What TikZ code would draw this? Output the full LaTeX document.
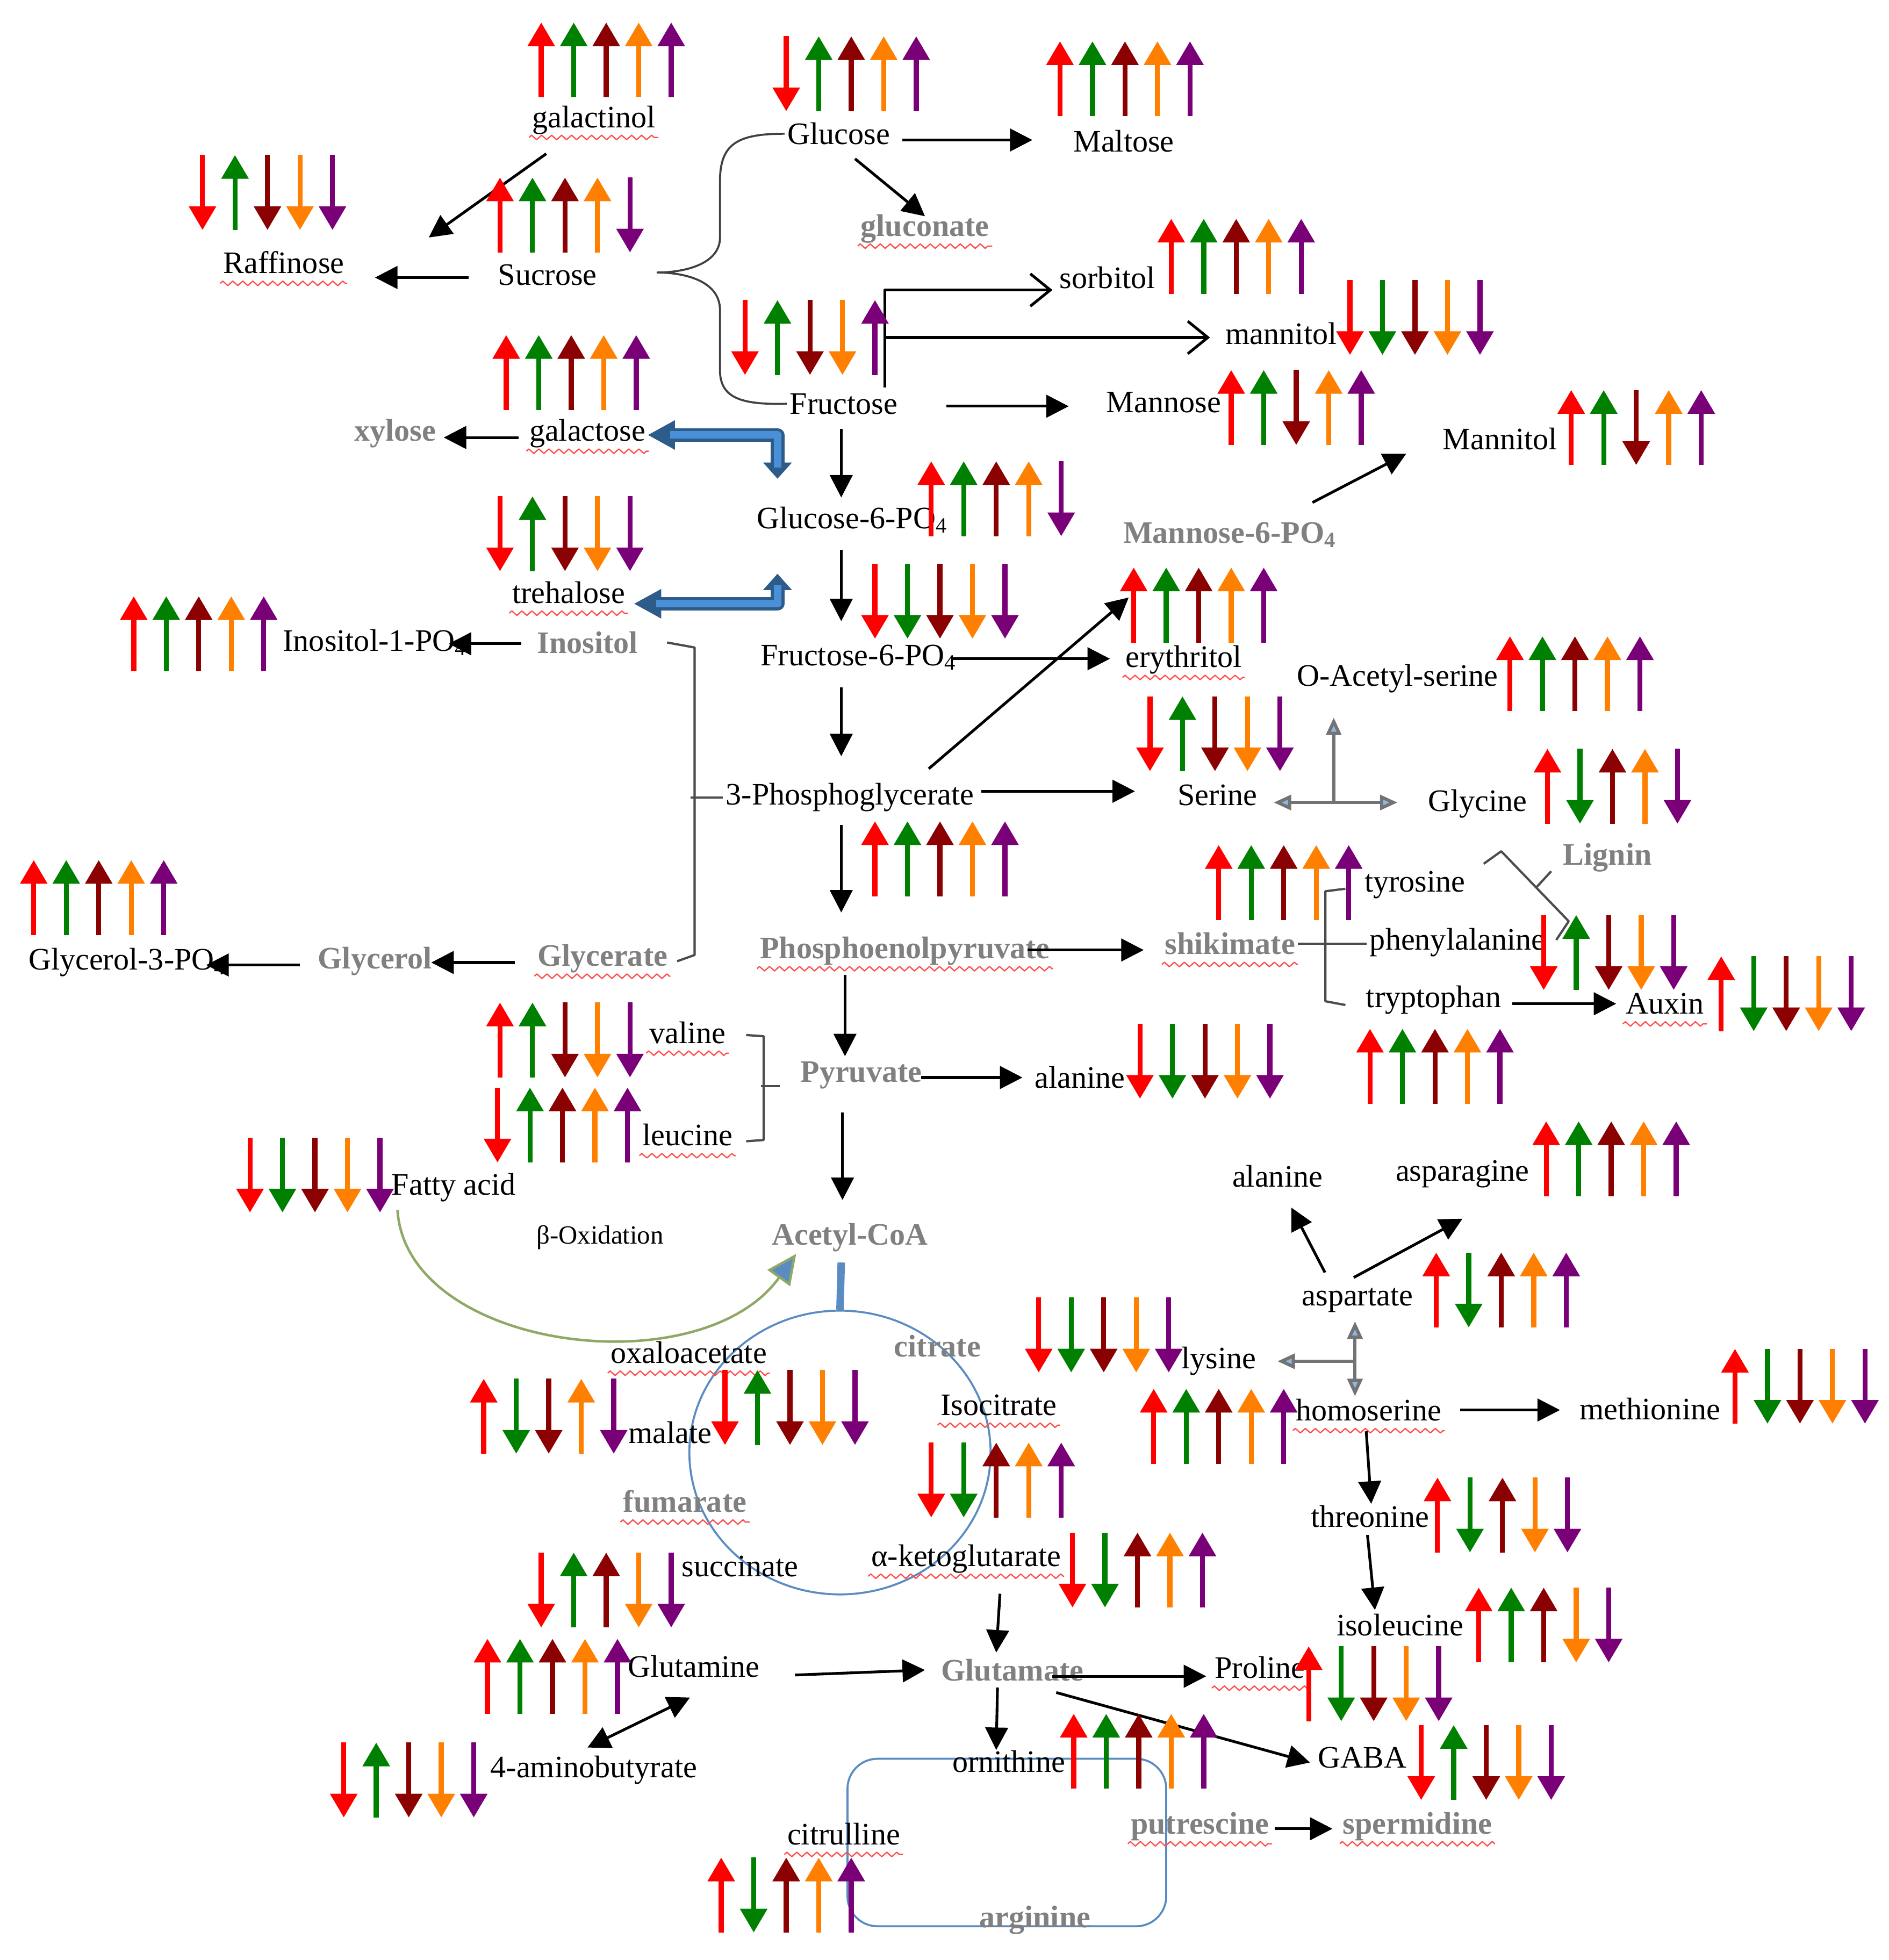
\documentclass[tikz,border=0pt]{standalone}
\usepackage{fontspec}
\setmainfont{Liberation Serif}
\usetikzlibrary{arrows.meta,calc,decorations.pathmorphing,shapes.geometric}
\definecolor{udc1}{HTML}{FF0000}
\definecolor{udc2}{HTML}{008000}
\definecolor{udc3}{HTML}{8B0000}
\definecolor{udc4}{HTML}{FF7F00}
\definecolor{udc5}{HTML}{7A0078}
\definecolor{labgrey}{HTML}{808080}
\definecolor{tcablue}{HTML}{5A8CC2}
\definecolor{blkblue}{HTML}{4A90D9}
\definecolor{blkdark}{HTML}{2E5C8A}
\definecolor{faline}{HTML}{8FA866}
\definecolor{tipblue}{HTML}{8DB8E0}
% five up/down arrows: first x, middle y, list of 1 (up) / -1 (down)
\newcommand\updn[3]{%
  \foreach \ud [count=\i] in {#3}
    \draw[udarr,color=udc\i] ({#1+26*(\i-1)},{#2+30*(\ud)}) -- ({#1+26*(\i-1)},{#2-30*(\ud)});
}
\begin{document}
\begin{tikzpicture}[x=0.5pt, y=-0.5pt, line join=round,
  blab/.style={inner sep=1pt, font=\fontsize{12.5}{14}\selectfont},
  glab/.style={inner sep=1pt, text=labgrey, font=\fontsize{12.5}{14}\selectfont\bfseries},
  udarr/.style={line width=2pt, -{Triangle[length=9.5pt,width=10.5pt]}},
  conn/.style={line width=1.1pt, -{Triangle[length=9pt,width=9pt]}},
  dconn/.style={line width=1.1pt, {Triangle[length=9pt,width=9pt]}-{Triangle[length=9pt,width=9pt]}},
  openarr/.style={line width=1.1pt, -{Straight Barb[length=8pt,width=13pt]}},
  bracket/.style={draw=black!70, line width=0.9pt},
  tjd/.style={draw=black!55, line width=1.3pt, {Triangle[length=7pt,width=6pt,fill=tipblue]}-{Triangle[length=7pt,width=6pt,fill=tipblue]}},
  tj/.style={draw=black!55, line width=1.3pt, -{Triangle[length=7pt,width=6pt,fill=tipblue]}},
  blk/.style={draw=blkdark, line width=5.5pt, {Triangle[length=18pt,width=5.5pt]}-{Triangle[length=11pt,width=11pt]},
    postaction={draw=blkblue, line width=3pt, -, shorten <=16pt, shorten >=9pt}},
  facurve/.style={draw=faline, line width=1pt, -{Triangle[length=12pt,width=11pt,fill=tcablue]}},
  spell/.style={draw=red!70, line width=0.5pt, decorate, decoration={zigzag,segment length=4pt,amplitude=0.9pt}}]
\useasboundingbox (0,0) rectangle (1511,1568);
\node[draw=tcablue, line width=0.8pt, ellipse, minimum width=120.5pt, minimum height=113.5pt, inner sep=0pt] (tca) at (672,1162) {};
\draw[draw=tcablue, line width=0.8pt, rounded corners=12pt] (678,1407) rectangle (933,1541);

\node[blab] (gact) at (475,96) {galactinol};
\node[blab] (glc) at (671,107) {Glucose};
\node[blab] (mal) at (899,113) {Maltose};
\node[blab] (raf) at (227,210) {Raffinose};
\node[blab] (suc) at (438,220) {Sucrose};
\node[glab] (glcn) at (740,183) {gluconate};
\node[blab] (sor) at (886,222) {sorbitol};
\node[blab] (mtl) at (1025,267) {mannitol};
\node[blab] (fru) at (675,323) {Fructose};
\node[blab] (man) at (931,322) {Mannose};
\node[blab] (mtlb) at (1200,351) {Mannitol};
\node[glab] (xyl) at (316,347) {xylose};
\node[blab] (gal) at (470,347) {galactose};
\node[blab] (g6p) at (682,416) {Glucose-6-PO\textsubscript{4}};
\node[glab] (m6p) at (984,428) {Mannose-6-PO\textsubscript{4}};
\node[blab] (tre) at (455,474) {trehalose};
\node[blab] (i1p) at (300,514) {Inositol-1-PO\textsubscript{4}};
\node[glab] (ino) at (470,514) {Inositol};
\node[blab] (f6p) at (687,526) {Fructose-6-PO\textsubscript{4}};
\node[blab] (ery) at (947,528) {erythritol};
\node[blab] (oas) at (1118,543) {O-Acetyl-serine};
\node[blab] (pga) at (680,638) {3-Phosphoglycerate};
\node[blab] (ser) at (974,636) {Serine};
\node[blab] (gly) at (1182,643) {Glycine};
\node[glab] (lig) at (1286,686) {Lignin};
\node[blab] (tyr) at (1132,708) {tyrosine};
\node[blab] (phe) at (1166,754) {phenylalanine};
\node[blab] (trp) at (1147,800) {tryptophan};
\node[blab] (aux) at (1332,803) {Auxin};
\node[blab] (g3p) at (102,770) {Glycerol-3-PO\textsubscript{4}};
\node[glab] (glyl) at (300,769) {Glycerol};
\node[glab] (glyt) at (482,767) {Glycerate};
\node[glab] (pep) at (724,761) {Phosphoenolpyruvate};
\node[glab] (shk) at (984,755) {shikimate};
\node[blab] (val) at (550,826) {valine};
\node[blab] (leu) at (550,908) {leucine};
\node[glab] (pyr) at (689,860) {Pyruvate};
\node[blab] (ala) at (864,862) {alanine};
\node[blab] (fa) at (363,950) {Fatty acid};
\node[blab, font=\fontsize{10.5}{12}\selectfont] (box) at (480,990) {β-Oxidation};
\node[glab] (acc) at (680,990) {Acetyl-CoA};
\node[blab] (alb) at (1022,941) {alanine};
\node[blab] (asn) at (1170,939) {asparagine};
\node[blab] (asp) at (1086,1040) {aspartate};
\node[blab] (oaa) at (551,1082) {oxaloacetate};
\node[glab] (cit) at (750,1077) {citrate};
\node[blab] (lys) at (975,1089) {lysine};
\node[blab] (malt) at (536,1146) {malate};
\node[blab] (icit) at (799,1124) {Isocitrate};
\node[blab] (hser) at (1095,1128) {homoserine};
\node[blab] (met) at (1320,1127) {methionine};
\node[glab] (fum) at (548,1201) {fumarate};
\node[blab] (thr) at (1096,1213) {threonine};
\node[blab] (succ) at (592,1253) {succinate};
\node[blab] (akg) at (773,1247) {α-ketoglutarate};
\node[blab] (ile) at (1120,1300) {isoleucine};
\node[blab] (gln) at (555,1333) {Glutamine};
\node[glab] (glu) at (810,1336) {Glutamate};
\node[blab] (pro) at (1008,1334) {Proline};
\node[blab] (gab4) at (475,1416) {4-aminobutyrate};
\node[blab] (orn) at (807,1409) {ornithine};
\node[blab] (gaba) at (1090,1406) {GABA};
\node[blab] (citr) at (675,1467) {citrulline};
\node[glab] (put) at (960,1461) {putrescine};
\node[glab] (spd) at (1134,1461) {spermidine};
\node[glab] (arg) at (828,1536) {arginine};

\foreach \n in {gact,raf,glcn,gal,tre,ery,glyt,pep,shk,val,leu,aux,oaa,icit,fum,hser,akg,pro,citr,put,spd}
  \draw[spell] ([yshift=-4pt]\n.base west) -- ([yshift=-4pt]\n.base east);

\coordinate (brc) at ($(suc.east)+(46,-2)$);
\draw[draw=black!75, line width=0.8pt] (glc.west) .. controls (590,107) and (576,115) .. (576,145) -- (576,190)
  .. controls (576,212) and (546,218) .. (brc) .. controls (546,218) and (576,224) .. (576,248) -- (576,296)
  .. controls (576,318) and (592,324) .. (fru.west);
\draw[conn] ($(gact)+(-38,27)$) -- ($(raf)+(116,-20)$);
\draw[conn] ($(suc)+(-63,2)$) -- ($(raf)+(73,12)$);
\draw[conn] ($(glc)+(51,5)$) -- ($(mal)+(-73,-1)$);
\draw[conn] ($(glc)+(13,20)$) -- ($(glcn)+(0,-10)$);
\draw[openarr] ($(fru)+(33,-13)$) |- ($(sor)+(-44,10)$);
\draw[openarr] ($(fru)+(33,-53)$) -- ($(mtl)+(-57,3)$);
\draw[conn] ($(fru)+(82,2)$) -- ($(man)+(-76,3)$);
\draw[conn] ($(fru)+(-2,20)$) -- ($(g6p)+(-9,-18)$);
\draw[conn] ($(gal)+(-55,3)$) -- ($(xyl)+(39,3)$);
\draw[blk] ($(g6p)+(-60,-10)$) |- ($(gal)+(48,1)$);
\draw[blk] ($(g6p)+(-60,20)$) |- ($(tre)+(52,9)$);
\draw[conn] ($(g6p)+(-9,24)$) -- ($(f6p)+(-14,-29)$);
\draw[conn] ($(m6p)+(66,-26)$) -- ($(mtlb)+(-75,12)$);
\draw[conn] ($(ino)+(-53,1)$) -- ($(i1p)+(59,1)$);
\draw[bracket] ($(ino.east)+(21,0)$) -- ++(22,4) -- ++(0,246) -- ++(-14,5);
\draw[bracket] ($(pga.west)+(-26,0)$) -- (pga.west);
\draw[conn] ($(glyt)+(-70,3)$) -- ($(glyl)+(45,1)$);
\draw[conn] ($(glyl)+(-60,3)$) -- ($(g3p)+(63,2)$);
\draw[conn] ($(f6p)+(75,1)$) -- ($(ery)+(-59,-1)$);
\draw[conn] ($(f6p)+(-14,24)$) -- ($(pga)+(-7,-33)$);
\draw[conn] ($(pga)+(63,-23)$) -- ($(ery)+(-44,-50)$);
\draw[conn] ($(pga)+(105,-5)$) -- ($(ser)+(-66,-3)$);
\coordinate (sj) at ($(ser)+(93,6)$);
\draw[tjd] ($(ser)+(45,6)$) -- ($(gly)+(-64,-1)$);
\draw[tj] (sj) -- ($(oas)+(-51,31)$);
\draw[conn] ($(pga)+(-7,22)$) -- ($(pep)+(-51,-31)$);
\draw[conn] ($(pep)+(98,-1)$) -- ($(shk)+(-69,5)$);
\draw[bracket] ($(tyr.west)+(-13,3)$) -- ++(-16,2) -- ++(0,88) -- ++(16,3);
\draw[bracket] (shk.east) -- (shk.east -| phe.west);
\draw[bracket] ($(lig)+(-99,5)$) -- ++(14,-10) -- ++(54,56) -- ++(-10,15);
\draw[bracket] ($(lig)+(-57,24)$) -- ++(12,-13);
\draw[conn] ($(trp)+(63,3)$) -- ($(aux)+(-39,0)$);
\draw[conn] ($(pep)+(-48,19)$) -- ($(pyr)+(-13,-15)$);
\draw[bracket] ($(val.east)+(14,2)$) -- ++(14,1) -- ++(0,83) -- ++(-14,1);
\draw[bracket] ($(pyr.west)+(-29,9)$) -- ++(15,0);
\draw[conn] ($(pyr)+(48,2)$) -- ($(ala)+(-46,0)$);
\draw[conn] ($(pyr)+(-15,30)$) -- ($(acc)+(-6,-30)$);
\draw[facurve] ($(fa)+(-45,18)$) .. controls (325,1080) and (560,1110) .. ($(acc)+(-43,13)$);
\draw[draw=tcablue, line width=3pt] ($(acc)+(-7,20)$) -- (tca.north);
\draw[conn] ($(asp)+(-26,-22)$) -- ($(alb)+(11,25)$);
\draw[conn] ($(asp)+(-3,-18)$) -- ($(asn)+(0,36)$);
\coordinate (aj) at ($(asp)+(-2,49)$);
\draw[tjd] ($(asp)+(-2,17)$) -- ($(hser)+(-11,-11)$);
\draw[tj] (aj) -- ($(lys)+(47,0)$);
\draw[conn] ($(hser)+(73,0)$) -- ($(met)+(-72,1)$);
\draw[conn] ($(hser)+(-2,17)$) -- ($(thr)+(1,-10)$);
\draw[conn] ($(thr)+(-2,15)$) -- ($(ile)+(-20,-12)$);
\draw[conn] ($(akg)+(27,28)$) -- ($(glu)+(-13,-14)$);
\draw[conn] ($(gln)+(81,7)$) -- ($(glu)+(-70,0)$);
\draw[dconn] ($(gab4)+(-5,-18)$) -- ($(gln)+(-3,25)$);
\draw[conn] ($(glu)+(32,5)$) -- ($(pro)+(-43,7)$);
\draw[conn] ($(glu)+(35,18)$) -- ($(gaba)+(-42,4)$);
\draw[conn] ($(glu)+(-12,14)$) -- ($(orn)+(-10,-9)$);
\draw[conn] ($(put)+(60,2)$) -- ($(spd)+(-68,2)$);

\updn{433}{48}{1,1,1,1,1}
\updn{629}{59}{-1,1,1,1,1}
\updn{848}{63}{1,1,1,1,1}
\updn{162}{154}{-1,1,-1,-1,-1}
\updn{400}{172}{1,1,1,1,-1}
\updn{937}{205}{1,1,1,1,1}
\updn{596}{270}{-1,1,-1,-1,1}
\updn{1080}{254}{-1,-1,-1,-1,-1}
\updn{405}{298}{1,1,1,1,1}
\updn{985}{326}{1,1,-1,1,1}
\updn{1257}{342}{1,1,-1,1,1}
\updn{745}{399}{1,1,1,1,-1}
\updn{400}{427}{-1,1,-1,-1,-1}
\updn{700}{481}{-1,-1,-1,-1,-1}
\updn{907}{484}{1,1,1,1,1}
\updn{107}{507}{1,1,1,1,1}
\updn{1208}{539}{1,1,1,1,1}
\updn{920}{587}{-1,1,-1,-1,-1}
\updn{1238}{629}{1,-1,1,1,-1}
\updn{700}{687}{1,1,1,1,1}
\updn{975}{706}{1,1,1,1,1}
\updn{27}{718}{1,1,1,1,1}
\updn{1235}{762}{-1,1,-1,-1,-1}
\updn{1377}{795}{1,-1,-1,-1,-1}
\updn{400}{832}{1,1,-1,-1,-1}
\updn{912}{849}{-1,-1,-1,-1,-1}
\updn{1096}{853}{1,1,1,1,1}
\updn{398}{900}{-1,1,1,1,1}
\updn{200}{940}{-1,-1,-1,-1,-1}
\updn{1237}{927}{1,1,1,1,1}
\updn{1149}{1032}{1,-1,1,1,1}
\updn{831}{1068}{-1,-1,-1,-1,-1}
\updn{1388}{1109}{1,-1,-1,-1,-1}
\updn{387}{1133}{1,-1,-1,1,-1}
\updn{580}{1126}{-1,1,-1,-1,-1}
\updn{923}{1141}{1,1,1,1,1}
\updn{745}{1184}{-1,-1,1,1,1}
\updn{1150}{1212}{1,-1,1,-1,-1}
\updn{858}{1256}{-1,-1,1,1,1}
\updn{433}{1272}{-1,1,1,-1,-1}
\updn{1183}{1300}{1,1,1,-1,-1}
\updn{390}{1341}{1,1,1,1,1}
\updn{1047}{1347}{1,-1,-1,-1,-1}
\updn{859}{1401}{1,1,1,1,1}
\updn{1137}{1410}{-1,1,-1,-1,-1}
\updn{275}{1424}{-1,1,-1,-1,-1}
\updn{577}{1516}{1,-1,1,1,1}
\end{tikzpicture}
\end{document}
